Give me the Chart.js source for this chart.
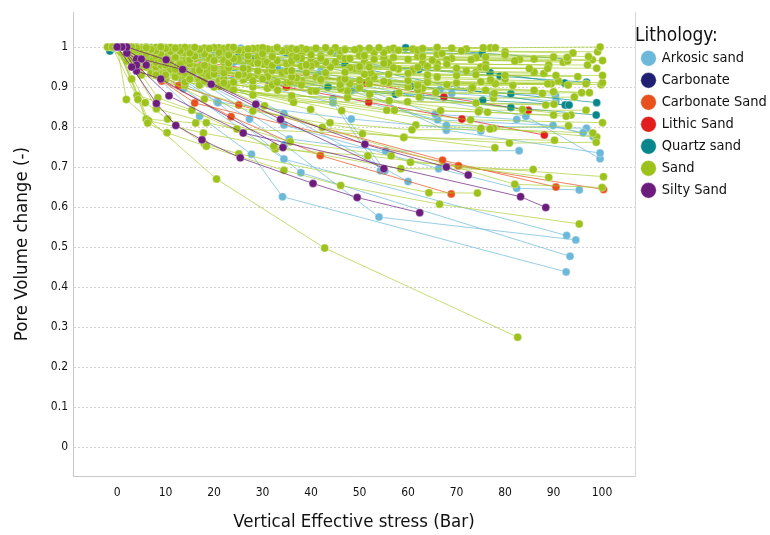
<!DOCTYPE html>
<html>
<head>
<meta charset="utf-8">
<script src="https://cdn.jsdelivr.net/npm/chart.js@4.4.1/dist/chart.umd.min.js"></script>
<style>
  html, body { margin: 0; padding: 0; background: #fff; }
</style>
</head>
<body>
<canvas id="chart" width="770" height="535"></canvas>
<script>
// Lithology classes, in legend order
const lithologies = ["Arkosic sand", "Carbonate", "Carbonate Sand", "Lithic Sand", "Quartz sand", "Sand", "Silty Sand"];

const xTickValues = [0, 10, 20, 30, 40, 50, 60, 70, 80, 90, 100];
const yTickValues = [0, 0.1, 0.2, 0.3, 0.4, 0.5, 0.6, 0.7, 0.8, 0.9, 1];
const yTickLabels = ["0", "0.1", "0.2", "0.3", "0.4", "0.5", "0.6", "0.7", "0.8", "0.9", "1"];

// One entry per sample: [vertical effective stress (bar), pore volume ratio]
const arkosicSand = [
  [[0,1],[5,0.96],[17,0.827],[27.7,0.732],[34.1,0.626],[92.6,0.438]],
  [[0,1],[10,0.95],[27.3,0.82],[34.5,0.756],[54,0.575],[94.6,0.518]],
  [[0,1],[8,0.95],[20.8,0.861],[37.9,0.686],[93.4,0.477]],
  [[0,1],[13.7,0.896],[34.4,0.72],[92.7,0.529]],
  [[0,1],[12,0.95],[34.4,0.805],[66.3,0.696],[82.4,0.647],[95.3,0.643]],
  [[0,1],[21.8,0.912],[34.4,0.834],[60,0.664]],
  [[0,1],[15.4,0.929],[35.5,0.77],[55.4,0.74],[82.9,0.741]],
  [[0,1],[16,0.94],[44.5,0.861],[54.3,0.691]],
  [[0,1],[18,0.95],[44.5,0.871],[55.2,0.691]],
  [[0,1],[10,0.98],[41.7,0.933],[65.6,0.832],[82.4,0.819],[96.1,0.786]],
  [[0,1],[15,0.97],[47.5,0.873],[66.1,0.818],[89.9,0.804],[98.2,0.776]],
  [[0,1],[20,0.97],[48.3,0.891],[67.9,0.804],[96.8,0.797]],
  [[0,1],[22,0.975],[49.4,0.896],[67.9,0.792],[99.6,0.735]],
  [[0,1],[25,0.97],[62.6,0.874],[84.3,0.827],[99.6,0.721]],
  [[0,1],[30,0.98],[66.6,0.893],[90.4,0.879],[92.6,0.856]],
  [[0,1],[35,0.985],[69,0.884],[90.5,0.865]],
  [[0,1],[7,0.999],[15,0.998],[25.5,0.997],[35,0.996]],
  [[0,0.998],[9.5,0.995],[20,0.992],[34.5,0.99],[45,0.985]],
  [[0,1],[8,0.985],[16,0.975],[24,0.962],[33,0.95],[42,0.94]],
  [[1,1],[5,0.97],[10.1,0.954],[13.4,0.92],[20.6,0.863],[48.3,0.82],[75,0.79]]
];

const carbonate = [
  [[0,1],[1.5,0.995],[3,0.987]]
];

const carbonateSand = [
  [[1,1],[5.5,0.956],[12.7,0.904],[25.1,0.855],[67.1,0.717],[90.5,0.65]],
  [[1,1],[9.2,0.915],[23.5,0.826],[41.9,0.729],[68.9,0.633]],
  [[1,1],[5,0.95],[16,0.86],[70.4,0.703],[100.3,0.644]]
];

const lithicSand = [
  [[1,1],[5,0.98],[51.2,0.91],[67.4,0.875],[84.8,0.842]],
  [[1,1],[6,0.97],[34.9,0.9],[51.9,0.862],[71.1,0.82],[88.1,0.78]]
];

const quartzSand = [
  [[-1.5,0.99],[20,0.998],[59.5,0.998],[92.9,0.97]],
  [[1,1],[4,0.96],[32.6,0.907],[57.4,0.882],[81.2,0.849],[98.8,0.83]],
  [[1,1],[15,0.96],[43.5,0.9],[75.4,0.867],[93.2,0.855]],
  [[1,1],[20,0.97],[60.5,0.902],[81.2,0.883],[98.9,0.861]],
  [[0,1],[25,0.975],[61.2,0.944],[76.9,0.936],[92.3,0.91]],
  [[0,1],[30,0.985],[62.2,0.944],[79,0.927],[96.8,0.912]],
  [[0,1],[40,0.99],[75.3,0.983]],
  [[0,1],[10,0.985],[28,0.97],[47,0.955],[77.6,0.881],[92.4,0.855]]
];

const sand = [
  // strongly compacting samples
  [[0,1],[1.9,0.869],[20.5,0.67],[42.8,0.4975],[82.6,0.275]],
  [[-1,1],[4.3,0.869],[6.3,0.81],[10.3,0.786],[18.4,0.752],[34.4,0.692],[46.1,0.654],[66.5,0.607],[95.3,0.558]],
  [[0,1],[5.8,0.861],[10.4,0.82],[18,0.758],[25.1,0.733],[64.3,0.636],[74.3,0.635]],
  [[0,1],[6.5,0.816],[17.8,0.785],[32.3,0.752],[58.5,0.696],[85.8,0.694]],
  [[1,1],[8.1,0.846],[18.4,0.811],[24.7,0.795],[50.6,0.783],[80.9,0.76],[98.8,0.762]],
  [[1,1],[8.4,0.873],[15.4,0.842],[32.6,0.745],[51.7,0.728],[89,0.674]],
  [[0,1],[4.1,0.879],[35.7,0.763],[56.5,0.728],[60.5,0.712],[100.3,0.676]],
  [[2,1],[30.4,0.853],[42.3,0.799],[59.1,0.774],[90.2,0.767]],
  [[1,1],[10,0.93],[39.9,0.844],[43.9,0.811],[60.8,0.793],[76.9,0.795],[98.1,0.785]],
  [[1,1],[15,0.92],[46.3,0.841],[61.6,0.805],[75,0.797],[93.1,0.803]],
  [[0,1],[20,0.9],[55.6,0.842],[72.9,0.818],[100.1,0.811]],
  [[0,1],[22,0.91],[57.2,0.842],[74.5,0.838],[92.6,0.827]],
  [[0,1],[25,0.93],[66.7,0.841],[76.4,0.837],[90,0.83]],
  [[0,1],[30,0.92],[83.6,0.844],[93.6,0.83]],
  [[0,1],[5,0.93],[82,0.657],[100,0.649]],
  [[0,1],[3,0.92],[6,0.82],[16.2,0.81]],
  [[1,1],[8,0.93],[18,0.87],[28,0.84],[59.2,0.775],[77.9,0.748]],
  // weakly compacting samples
  [[-2,1],[3,1],[9,1],[16,0.999],[24,0.999],[33,0.998],[43,0.998],[54,0.998],[66,0.999],[78,0.998],[99.6,1.0]],
  [[-1,1],[1,0.999],[6,0.998],[12,0.997],[19,0.996],[27,0.995],[37,0.994],[47,0.993],[58,0.992],[71,0.99],[99.1,0.988]],
  [[0,1],[4,0.998],[10,0.996],[17,0.994],[25,0.992],[34,0.99],[44,0.988],[55,0.986],[67,0.984],[80,0.981],[97.2,0.976]],
  [[-1.5,1],[2,0.997],[7,0.994],[13,0.99],[21,0.986],[30,0.983],[40,0.98],[51,0.978],[63,0.976],[76,0.975],[92.8,0.974]],
  [[0,1],[3,0.996],[8,0.991],[15,0.985],[23,0.98],[32,0.976],[42,0.972],[53,0.969],[65,0.967],[92.9,0.965]],
  [[0,1],[5,0.995],[11,0.989],[18,0.983],[27,0.978],[37,0.974],[48,0.971],[60,0.969],[73,0.968],[100.1,0.966]],
  [[1,1],[4,0.993],[9,0.985],[16,0.977],[24,0.971],[33,0.966],[43,0.962],[55,0.959],[68,0.957],[97,0.955]],
  [[0,1],[2,0.992],[6,0.983],[12,0.974],[20,0.966],[29,0.96],[39,0.955],[50,0.951],[62,0.949],[76,0.948],[98.9,0.947]],
  [[0,1],[3,0.99],[8,0.978],[15,0.968],[23,0.96],[32,0.954],[44,0.95],[57,0.948],[70,0.947],[85,0.946]],
  [[-0.5,1],[5,0.988],[12,0.975],[20,0.965],[29,0.958],[40,0.953],[52,0.95],[66,0.948],[88.8,0.946]],
  [[0,1],[2,0.988],[6,0.975],[11,0.964],[18,0.954],[26,0.947],[36,0.941],[47,0.937],[60,0.934],[74,0.931],[90.5,0.929]],
  [[1,1],[4,0.985],[9,0.97],[15,0.958],[23,0.948],[32,0.941],[43,0.936],[56,0.932],[70,0.929],[95,0.926]],
  [[0,1],[3,0.985],[7,0.97],[13,0.957],[20,0.947],[29,0.94],[39,0.935],[51,0.932],[64,0.93],[80,0.929],[100.1,0.929]],
  [[0,1],[2,0.985],[5,0.97],[10,0.955],[17,0.942],[26,0.932],[36,0.925],[47,0.92],[60,0.916],[75,0.913],[100.1,0.911]],
  [[1,1],[4,0.98],[8,0.962],[14,0.947],[22,0.935],[31,0.926],[42,0.919],[55,0.914],[70,0.91],[99.8,0.906]],
  [[0,1],[5,0.975],[10,0.958],[17,0.944],[26,0.932],[37,0.923],[50,0.917],[64,0.912],[96.7,0.908]],
  [[0,1],[2,0.98],[6,0.96],[12,0.944],[20,0.932],[30,0.923],[42,0.916],[56,0.911],[70,0.909],[88.8,0.908]],
  [[1,1],[4,0.975],[9,0.955],[16,0.94],[25,0.928],[35.7,0.912],[52,0.908],[68,0.906],[89.5,0.908]],
  [[0,1],[3,0.97],[8,0.95],[14,0.935],[22,0.922],[33,0.912],[46,0.906],[62,0.904],[81.6,0.904]],
  [[0,1],[5,0.965],[11,0.944],[19,0.928],[28,0.915],[38,0.905],[50,0.898],[62,0.893],[73.3,0.898],[97.4,0.886]],
  [[0,1],[3,0.965],[8,0.943],[15,0.925],[24,0.912],[33.1,0.892],[46.1,0.896],[58.1,0.885],[77.8,0.884],[95.8,0.886]],
  [[1,1],[6,0.96],[13,0.938],[22,0.918],[32,0.905],[47.5,0.89],[65.7,0.886],[87.7,0.884]],
  [[0,1],[4,0.96],[10,0.935],[18,0.915],[28,0.9],[41,0.89],[52.1,0.882],[62.3,0.875],[77.6,0.872],[94.3,0.875]],
  [[0,1],[2,0.965],[7,0.935],[14,0.912],[24,0.893],[36,0.878],[56.1,0.866],[74,0.86],[90.1,0.857]],
  [[1,1],[5,0.955],[12,0.925],[21,0.902],[36.4,0.862],[59.9,0.863],[88.4,0.855]],
  [[0,1],[3,0.96],[9,0.93],[17,0.905],[28,0.88],[47.5,0.874],[74.7,0.842],[96.7,0.842]],
  [[0,1],[6,0.95],[14,0.92],[24,0.895],[36,0.87],[77.6,0.797],[98.9,0.775]],
  [[-1,1],[4,1],[11,0.999],[20,0.998],[30,0.998],[41,0.997],[52,0.997],[63,0.996],[75.5,0.998]],
  [[0,1],[6,1],[14,0.999],[23,0.999],[33,0.998],[45,0.998],[57,0.997],[69,0.997]],
  [[0,1],[2,1],[8,0.999],[13,0.998],[22,0.996],[31,0.995],[39,0.994],[49,0.993],[62,0.992]],
  [[0,1],[5,0.999],[12,0.998],[18,0.997],[28,0.996],[36,0.996],[47,0.995],[56,0.994]],
  [[-1,1],[3,0.999],[9,0.997],[17,0.995],[26,0.993],[35,0.991],[46,0.99]],
  [[0,1],[7,0.998],[15,0.996],[24,0.994],[32,0.993],[40,0.992]],
  [[0,1],[10,0.999],[21,0.998],[29,0.997],[38,0.997],[50,0.996],[61,0.995],[72,0.995],[77,0.998]],
  [[1,1],[4,0.995],[9,0.99],[14,0.985],[21,0.98],[29,0.975],[38,0.972],[47,0.97]],
  [[0,1],[3,0.994],[7,0.987],[12,0.98],[19,0.974],[27,0.969],[36,0.965],[45,0.962],[56,0.96],[66,0.958]],
  [[0,1],[4,0.992],[9,0.983],[15,0.975],[22,0.968],[31,0.962],[41,0.958],[52,0.955],[64,0.952],[75,0.95]],
  [[1,1],[3,0.99],[6,0.982],[10,0.975],[15,0.968],[22,0.962],[30,0.957],[39,0.952],[48,0.948],[58,0.945]],
  [[0,1],[2,0.99],[5,0.98],[9,0.97],[14,0.96],[20,0.952],[27,0.945],[35,0.94]],
  [[0,1],[1,0.985],[3,0.97],[6,0.955],[10,0.94],[15,0.925],[21,0.915]],
  [[0,1],[1.5,0.975],[4,0.955],[7,0.935],[10,0.92],[14,0.905]],
  [[-1,1],[0.5,0.99],[2.5,0.975],[5,0.96],[8,0.945],[12,0.93],[17,0.918],[23,0.907]],
  [[0,1],[8,0.99],[16,0.98],[25,0.97],[35,0.958],[47.1,0.94],[52.3,0.935],[66,0.925],[80,0.92]],
  [[0,1],[12,0.995],[22,0.99],[32,0.984],[42,0.978],[55,0.972],[68,0.968],[82,0.965],[92,0.962]],
  [[2,1],[15,0.997],[28,0.994],[40,0.99],[53,0.986],[66,0.982],[80,0.978],[90,0.975]],
  [[0,1],[3,0.985],[6,0.965],[9,0.948],[13,0.932],[18,0.918],[24,0.906],[31,0.897],[40,0.89]],
  [[0,1],[4,0.99],[7,0.975],[11,0.962],[16,0.95],[22,0.94],[29,0.932],[37,0.925],[46,0.918],[55,0.913]],
  [[1,1],[5,0.992],[10,0.98],[16,0.97],[23,0.962],[31,0.955],[40,0.95],[50,0.946],[61,0.943],[72,0.94],[86,0.937]],
  [[0,1],[6,0.994],[13,0.986],[21,0.978],[30,0.972],[40,0.967],[51,0.963],[63,0.96],[76,0.957],[89,0.955]],
  [[0,1],[9,0.996],[18,0.99],[27,0.985],[36,0.981],[46,0.977],[57,0.974],[69,0.971],[83,0.969]],
  [[0,1],[2,0.995],[4,0.985],[8,0.972],[13,0.96],[19,0.95],[26,0.942],[34,0.936],[43,0.93],[53,0.925],[64,0.921],[77,0.918],[91,0.915]],
  [[1,1],[7,0.985],[14,0.965],[22,0.948],[31,0.935],[41,0.925],[52,0.918],[64,0.912],[78,0.908],[93,0.905]],
  [[0,1],[5,0.982],[11,0.96],[18,0.942],[27,0.928],[37,0.917],[48,0.908],[60,0.9],[73,0.895],[86,0.892]],
  [[0,1],[8,0.975],[17,0.95],[27,0.93],[38,0.915],[50,0.905],[63,0.897],[76,0.892],[90,0.888]],
  [[2,1],[10,0.985],[19,0.97],[28,0.96],[38,0.952],[49,0.946],[61,0.941],[74,0.937],[88,0.934]],
  [[0,1],[3,0.975],[7,0.955],[12,0.94],[18,0.928],[26,0.918],[35,0.91]],
  [[0,1],[14,0.993],[26,0.988],[38,0.983],[50,0.979],[62,0.976],[74,0.973],[86,0.97],[98,0.968]],
  [[0,1],[18,0.997],[35,0.995],[52,0.993],[66,0.99],[80,0.988],[94,0.985]]
];

const siltySand = [
  [[0,1],[3,0.95],[8.1,0.859],[12.1,0.804],[17.5,0.768],[25.4,0.723],[40.4,0.659],[49.5,0.624],[62.4,0.586]],
  [[1,1],[4,0.955],[10.7,0.878],[26,0.785],[83.2,0.626],[88.4,0.599]],
  [[1,1],[5,0.97],[13.5,0.944],[28.6,0.857],[51.1,0.757],[67.9,0.7],[72.4,0.68]],
  [[2,1],[10.1,0.968],[19.4,0.907],[33.7,0.819],[55,0.696]],
  [[1,1],[4,0.94],[9,0.92],[34.2,0.749]],
  [[0,1],[2,0.985],[4,0.97],[6,0.955]]
];

const samplesByLithology = [arkosicSand, carbonate, carbonateSand, lithicSand, quartzSand, sand, siltySand];

const markerColors = ["#6cb8d8", "#1f2072", "#e8501c", "#e21d1d", "#08878a", "#9dc21c", "#6c1c7c"];
const lineColors = [
  "rgba(108,184,216,0.7)",
  "rgba(31,32,114,0.6)",
  "rgba(232,80,28,0.7)",
  "rgba(226,29,29,0.7)",
  "rgba(8,135,138,0.65)",
  "rgba(166,203,40,0.65)",
  "rgba(108,28,124,0.7)"
];

const FONT = "'DejaVu Sans Condensed', 'DejaVu Sans', sans-serif";

// Build one line dataset per sample; the last lithology ends up drawn on top
const datasets = [];
for (let k = lithologies.length - 1; k >= 0; k--) {
  samplesByLithology[k].forEach((curve, i) => {
    datasets.push({
      label: lithologies[k],
      lith: k,
      legendEntry: i === 0,
      data: curve.map(p => ({ x: p[0], y: p[1] })),
      showLine: true,
      borderColor: lineColors[k],
      borderWidth: 1,
      backgroundColor: markerColors[k],
      pointBackgroundColor: markerColors[k],
      pointBorderColor: "rgba(255,255,255,0.35)",
      pointBorderWidth: 1,
      pointRadius: 4,
      pointHoverRadius: 4,
      tension: 0
    });
  });
}

new Chart(document.getElementById("chart").getContext("2d"), {
  type: "scatter",
  data: { datasets: datasets },
  options: {
    responsive: false,
    animation: false,
    events: [],
    layout: { padding: { top: 8, left: 0, right: 0, bottom: 0 } },
    plugins: {
      tooltip: { enabled: false },
      legend: {
        position: "right",
        align: "start",
        maxWidth: 135,
        title: {
          display: true,
          text: "Lithology:",
          position: "start",
          color: "#111",
          font: { family: FONT, size: 19, lineHeight: 0.9 },
          padding: { top: 18.5, bottom: 0 }
        },
        labels: {
          usePointStyle: true,
          pointStyle: "circle",
          boxWidth: 12,
          boxHeight: 11,
          padding: 7.5,
          color: "#111",
          font: { family: FONT, size: 14.5 },
          filter: (item, data) => data.datasets[item.datasetIndex].legendEntry,
          sort: (a, b, data) => data.datasets[a.datasetIndex].lith - data.datasets[b.datasetIndex].lith
        }
      }
    },
    scales: {
      x: {
        type: "linear",
        min: -9.1,
        max: 106.8,
        afterBuildTicks: s => { s.ticks = xTickValues.map(v => ({ value: v })); },
        afterFit: s => { s.height = 59; },
        grid: { display: false, drawTicks: false },
        border: { display: true, color: "#c9c9c9", width: 1 },
        ticks: { padding: 10, color: "#111", font: { family: FONT, size: 12 }, maxRotation: 0 },
        title: {
          display: true,
          text: "Vertical Effective stress (Bar)",
          color: "#111",
          font: { family: FONT, size: 18.5 },
          padding: { top: 0, bottom: 2 }
        }
      },
      y: {
        type: "linear",
        min: -0.072,
        max: 1.087,
        afterBuildTicks: s => { s.ticks = yTickValues.map(v => ({ value: v })); },
        afterFit: s => { s.width = 73; },
        grid: { display: true, drawTicks: false, color: "#d2d2d2", lineWidth: 1 },
        border: { display: true, color: "#c9c9c9", width: 1, dash: [2, 2] },
        ticks: {
          padding: 5,
          color: "#111",
          font: { family: FONT, size: 12 },
          callback: (v, i) => yTickLabels[i]
        },
        title: {
          display: true,
          text: "Pore Volume change (-)",
          color: "#111",
          font: { family: FONT, size: 18.5 },
          padding: { top: 11, bottom: 0 }
        }
      },
      y2: {
        type: "linear",
        position: "right",
        min: 0,
        max: 1,
        afterFit: s => { s.width = 0; },
        grid: { display: false, drawTicks: false },
        border: { display: true, color: "#d6d6d6", width: 1 },
        ticks: { display: false }
      }
    }
  }
});
</script>
</body>
</html>
